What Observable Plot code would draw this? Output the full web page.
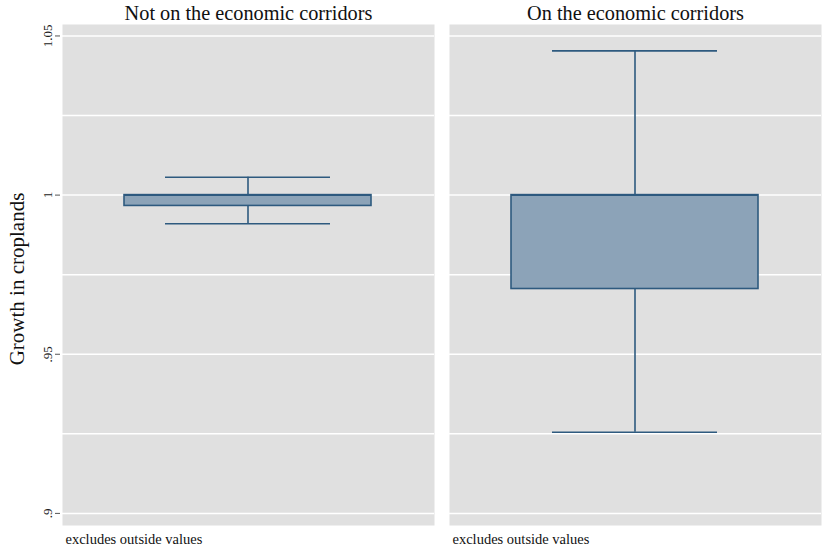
<!DOCTYPE html>
<html><head><meta charset="utf-8">
<script src="https://cdn.jsdelivr.net/npm/d3@7"></script>
<script src="https://cdn.jsdelivr.net/npm/@observablehq/plot@0.6"></script>
<style>body{margin:0;background:#fff} svg, svg text{font-family:"Liberation Serif","Times New Roman",serif !important}</style>
</head><body><div id="chart"></div>
<script>
const groups = ["Not on the economic corridors", "On the economic corridors"];
const lowerWhisker = [0.9910, 0.9255];
const q1 = [0.9966, 0.9705];
const median = [1.0, 1.0];
const q3 = [1.0, 1.0];
const upperWhisker = [1.0056, 1.0453];
const tickValues = [0.9, 0.95, 1, 1.05];
const tickLabels = [".9", ".95", "1", "1.05"];
const gridValues = [0.9, 0.925, 0.95, 0.975, 1, 1.025, 1.05];
const yTitle = "Growth in croplands";
const note = "excludes outside values";

const data = groups.map((g, i) => ({group: g, key: "box", lo: lowerWhisker[i], q1: q1[i], med: median[i], q3: q3[i], hi: upperWhisker[i]}));
const stroke = "#2e5a7f";
const fill = "#8ca3b8";

const plot = Plot.plot({
  width: 822, height: 553,
  marginLeft: 62, marginRight: 0, marginTop: 24, marginBottom: 28,
  style: {background: "white", color: "#222"},
  fx: {domain: groups, paddingInner: 0.0387, paddingOuter: 0, label: null},
  x: {domain: ["box"], padding: 0.2, axis: null},
  y: {domain: [0.8962, 1.0536], label: null},
  marks: [
    Plot.frame({fill: "#e0e0e0", stroke: null}),
    Plot.gridY(gridValues, {stroke: "white", strokeOpacity: 1, strokeWidth: 1.5}),
    Plot.axisY(tickValues, {tickFormat: d => tickLabels[tickValues.indexOf(d)], tickRotate: -90, tickSize: 5, tickPadding: 4, dx: -2, fontSize: 13, stroke: "#555", fill: "#222", label: null}),
    Plot.axisFx({anchor: "top", label: null, tickSize: 0, tickPadding: 5, fontSize: 20.3, fill: "#111"}),
    Plot.ruleX(data, {fx: "group", x: "key", y1: "q3", y2: "hi", stroke, strokeWidth: 1.6}),
    Plot.ruleX(data, {fx: "group", x: "key", y1: "lo", y2: "q1", stroke, strokeWidth: 1.6}),
    Plot.tickY(data, {fx: "group", x: "key", y: "hi", stroke, strokeWidth: 1.6, inset: 41}),
    Plot.tickY(data, {fx: "group", x: "key", y: "lo", stroke, strokeWidth: 1.6, inset: 41}),
    Plot.barY(data, {fx: "group", x: "key", y1: "q1", y2: "q3", fill, stroke, strokeWidth: 1.6}),
    Plot.tickY(data, {fx: "group", x: "key", y: "med", stroke, strokeWidth: 1.6}),
    Plot.text([groups[0]], {fx: d => d, text: () => yTitle, frameAnchor: "left", textAnchor: "middle", rotate: -90, dx: -45, dy: 4, fontSize: 21, fill: "#111"}),
    Plot.text(groups, {fx: d => d, text: () => note, frameAnchor: "bottom-left", textAnchor: "start", dx: 3, dy: 18, fontSize: 14.5, fill: "#111"})
  ]
});
document.getElementById("chart").appendChild(plot);
</script>
</body></html>
